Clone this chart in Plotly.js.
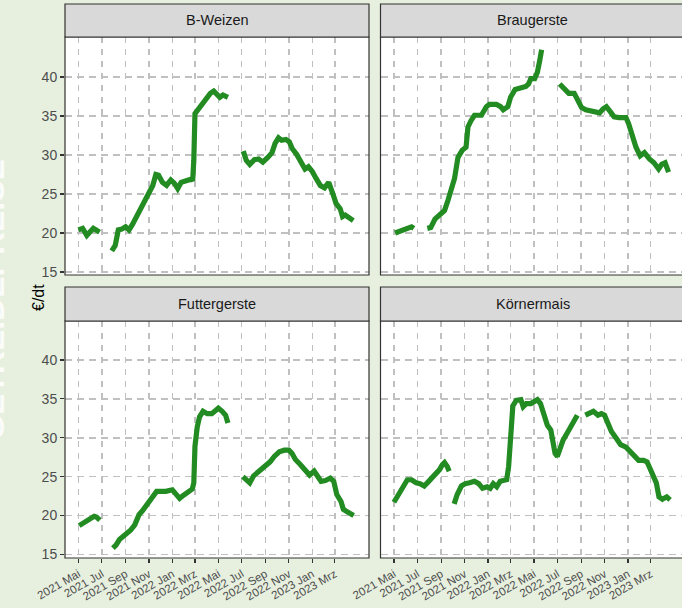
<!DOCTYPE html>
<html>
<head>
<meta charset="utf-8">
<script src="https://cdn.plot.ly/plotly-3.0.1.min.js"></script>
<style>html,body{margin:0;padding:0;background:#e7f0df;}#chart{width:682px;height:608px;}</style>
</head>
<body>
<div id="chart"></div>
<script>
// ---- Data ----
const panelTitles = ["B-Weizen", "Braugerste", "Futtergerste", "Körnermais"];
const tickDates = ["2021-05-01","2021-07-01","2021-09-01","2021-11-01","2022-01-01","2022-03-01","2022-05-01","2022-07-01","2022-09-01","2022-11-01","2023-01-01","2023-03-01"];
const tickLabels = ["2021 Mai","2021 Jul","2021 Sep","2021 Nov","2022 Jan","2022 Mrz","2022 Mai","2022 Jul","2022 Sep","2022 Nov","2023 Jan","2023 Mrz"];
const yTicks = [15, 20, 25, 30, 35, 40];

const weizenDates = ["2021-05-01","2021-05-12","2021-05-23","2021-06-01","2021-06-09","2021-06-16","2021-06-25","2021-07-10",
"2021-07-27","2021-08-05","2021-08-13","2021-08-22","2021-09-01","2021-09-10","2021-09-19","2021-09-29","2021-10-12","2021-10-24",
"2021-11-02","2021-11-11","2021-11-19","2021-11-26","2021-12-06","2021-12-17","2021-12-28","2022-01-06","2022-01-15","2022-01-24",
"2022-02-06","2022-02-19","2022-02-23","2022-02-26","2022-03-01","2022-03-04","2022-03-15","2022-03-28","2022-04-10","2022-04-19",
"2022-04-27","2022-05-05","2022-05-13","2022-05-19","2022-05-26","2022-06-15",
"2022-07-05","2022-07-13","2022-07-22","2022-08-03","2022-08-14","2022-08-25","2022-09-07","2022-09-18","2022-09-26","2022-10-05",
"2022-10-13","2022-10-24","2022-11-02","2022-11-10","2022-11-21","2022-11-29","2022-12-13","2022-12-22","2023-01-01","2023-01-11",
"2023-01-22","2023-02-02","2023-02-13","2023-02-24","2023-03-04","2023-03-15","2023-03-21","2023-03-28","2023-04-05","2023-04-18"];
const weizenVals = [20.4,20.6,19.7,20.3,20.6,20.4,20.1,null,
17.7,18.4,20.4,20.5,20.8,20.4,21.1,22.0,23.3,24.4,
25.4,26.1,27.5,27.4,26.5,26.1,26.8,26.4,25.7,26.5,
26.7,26.9,26.7,29.3,35.3,35.5,36.4,37.3,37.9,38.2,
37.9,37.4,37.7,37.6,37.4,null,
30.5,29.3,28.8,29.4,29.5,29.1,29.7,30.3,31.5,32.2,
31.9,32.0,31.7,30.8,30.1,29.3,28.2,28.5,27.9,27.0,
26.1,25.8,26.5,25.0,23.8,23.1,22.1,22.3,22.0,21.6];

const brauDates = ["2021-05-04","2021-05-21","2021-06-08","2021-06-16","2021-06-22","2021-07-10",
"2021-07-27","2021-08-05","2021-08-16","2021-08-29","2021-09-10","2021-09-19","2021-09-28","2021-10-06","2021-10-15","2021-10-26",
"2021-11-05","2021-11-10","2021-11-18","2021-11-27","2021-12-15","2021-12-28","2022-01-05","2022-01-23","2022-02-03","2022-02-10",
"2022-02-22","2022-03-01","2022-03-13","2022-03-28","2022-04-10","2022-04-17","2022-04-23","2022-05-03","2022-05-10","2022-05-16",
"2022-05-21","2022-06-15",
"2022-07-07","2022-07-18","2022-07-31","2022-08-14","2022-08-22","2022-09-02","2022-09-13","2022-09-28","2022-10-08","2022-10-19",
"2022-10-28","2022-11-06","2022-11-17","2022-11-26","2022-12-09","2022-12-27","2023-01-03","2023-01-14","2023-01-22","2023-02-02",
"2023-02-13","2023-02-26","2023-03-10","2023-03-22","2023-03-30","2023-04-08","2023-04-17"];
const brauVals = [20.0,20.3,20.6,20.8,20.6,null,
20.6,20.7,21.8,22.3,22.9,24.2,25.5,27.0,29.7,30.6,
31.0,33.6,34.4,35.1,35.1,36.2,36.5,36.5,36.2,35.8,
36.2,37.4,38.4,38.6,38.8,39.1,39.8,39.8,40.6,42.1,
43.5,null,
39.1,38.5,37.9,37.9,37.2,36.1,35.8,35.6,35.6,35.4,
35.9,36.2,35.5,34.9,34.8,34.8,34.0,32.3,31.0,29.9,
30.3,29.5,29.0,28.2,28.8,29.0,27.8];

const futterDates = ["2021-05-03","2021-05-14","2021-05-23","2021-06-02","2021-06-11","2021-06-17","2021-06-26","2021-07-12",
"2021-07-30","2021-08-07","2021-08-16","2021-08-26","2021-09-03","2021-09-14","2021-09-25","2021-10-06","2021-10-15","2021-10-24",
"2021-11-02","2021-11-12","2021-11-21","2021-12-02","2021-12-15","2022-01-01","2022-01-11","2022-01-20","2022-01-30","2022-02-11",
"2022-02-22","2022-02-26","2022-03-01","2022-03-07","2022-03-13","2022-03-22","2022-04-02","2022-04-14","2022-04-24","2022-05-01",
"2022-05-11","2022-05-20","2022-05-26","2022-06-15",
"2022-07-04","2022-07-13","2022-07-22","2022-08-01","2022-08-11","2022-08-20","2022-09-01","2022-09-13","2022-09-24","2022-10-07",
"2022-10-20","2022-11-01","2022-11-09","2022-11-18","2022-11-30","2022-12-14","2022-12-25","2023-01-06","2023-01-15","2023-01-24",
"2023-02-04","2023-02-17","2023-02-26","2023-03-06","2023-03-17","2023-03-23","2023-04-01","2023-04-10","2023-04-19"];
const futterVals = [18.7,19.0,19.2,19.5,19.9,19.8,19.4,null,
15.8,16.2,16.9,17.3,17.6,18.1,18.8,20.1,20.6,21.2,
22.0,22.6,23.1,23.1,23.1,23.3,22.6,22.2,22.6,23.1,
23.4,24.2,28.9,31.4,32.7,33.4,33.1,33.1,33.4,33.8,
33.4,32.9,31.9,null,
25.0,24.7,24.2,25.1,25.5,25.9,26.5,26.9,27.6,28.2,
28.4,28.4,28.0,27.2,26.6,25.7,25.2,25.7,25.0,24.4,
24.5,24.8,24.4,22.7,21.8,20.8,20.5,20.3,20.0];

const maisDates = ["2021-05-01","2021-05-12","2021-05-25","2021-06-05","2021-06-16","2021-06-28","2021-07-08","2021-07-19","2021-07-27",
"2021-08-08","2021-08-19","2021-08-28","2021-09-04","2021-09-10","2021-09-17","2021-09-22","2021-09-28",
"2021-10-05","2021-10-13","2021-10-24","2021-11-03","2021-11-14","2021-11-27","2021-12-08","2021-12-18","2021-12-30","2022-01-07",
"2022-01-15","2022-01-24","2022-02-02","2022-02-11","2022-02-19","2022-02-24","2022-03-01","2022-03-07","2022-03-16","2022-03-28",
"2022-04-03","2022-04-11","2022-04-23","2022-05-01","2022-05-10","2022-05-18","2022-05-27","2022-06-05","2022-06-14","2022-06-20",
"2022-06-25","2022-07-01","2022-07-07","2022-07-16","2022-07-29","2022-08-11","2022-08-22","2022-09-01",
"2022-09-12","2022-09-23","2022-10-03","2022-10-15","2022-10-24","2022-11-01","2022-11-10","2022-11-19","2022-12-02","2022-12-13",
"2022-12-27","2023-01-07","2023-01-17","2023-01-29","2023-02-11","2023-02-20","2023-02-27","2023-03-07","2023-03-16","2023-03-23",
"2023-04-01","2023-04-12","2023-04-21"];
const maisVals = [21.7,22.7,23.9,24.6,24.6,24.2,24.1,23.8,24.2,
24.8,25.4,25.9,26.5,26.8,26.3,25.7,null,
21.5,22.7,23.8,24.1,24.2,24.4,24.1,23.5,23.7,23.5,
24.1,23.7,24.4,24.5,24.6,26.3,31.0,34.1,34.8,34.9,
34.0,34.4,34.4,34.6,34.9,34.4,32.9,31.6,31.0,29.3,
28.0,27.6,28.4,29.7,30.8,31.9,32.9,null,
32.9,33.1,33.4,32.9,33.1,32.9,31.9,30.8,29.9,29.1,
28.8,28.2,27.6,27.1,27.1,26.9,26.1,25.2,24.2,22.4,
22.1,22.4,22.0];

// ---- Layout geometry ----
const W = 682, H = 608;
const colX = [[65/W, 369/W], [380.5/W, 1]];
const stripCenterX = [(65+369)/2/W, (380.5+685)/2/W];
const rowY = [[1-275/H, 1-37/H], [1-558/H, 1-321/H]];
const stripY = [[1-37/H, 1-4/H], [1-321/H, 1-287/H]];
const xRanges = [["2021-03-27","2023-05-29"], ["2021-03-27","2023-05-22"]];
const yRanges = [[14.62, 45.13], [14.53, 45.02]];

const series = [[weizenDates, weizenVals],[brauDates, brauVals],[futterDates, futterVals],[maisDates, maisVals]];
const green = "#228B22";
const FONT = "Liberation Sans, Arial, sans-serif";

const traces = [];
const layout = {
  width: W, height: H,
  margin: {l:0, r:0, t:0, b:0},
  paper_bgcolor: "#e7f0df",
  plot_bgcolor: "#ffffff",
  showlegend: false,
  font: {family: FONT},
  shapes: [], annotations: []
};

for (let i = 0; i < 4; i++) {
  const r = Math.floor(i/2), c = i % 2;
  const ax = i === 0 ? "" : String(i+1);
  traces.push({
    x: series[i][0], y: series[i][1],
    type: "scatter", mode: "lines",
    connectgaps: false,
    line: {color: green, width: 5.2},
    xaxis: "x"+ax, yaxis: "y"+ax,
    hoverinfo: "skip"
  });
  layout["xaxis"+ax] = {
    domain: colX[c], anchor: "y"+ax, type: "date",
    range: xRanges[c],
    tickmode: "array", tickvals: tickDates, ticktext: tickLabels,
    showticklabels: r === 1, ticks: r === 1 ? "outside" : "",
    ticklen: 4, tickwidth: 1.2, tickcolor: "#333333",
    tickangle: -30,
    tickfont: {size: 11.5, color: "#4d4d4d", family: FONT},
    showgrid: true, gridcolor: "#c0c0c0", gridwidth: 1.5, griddash: "6px,6px",
    zeroline: false, showline: false, fixedrange: true
  };
  layout["yaxis"+ax] = {
    domain: rowY[r], anchor: "x"+ax,
    range: yRanges[r],
    tickmode: "array", tickvals: yTicks,
    showticklabels: c === 0, ticks: c === 0 ? "outside" : "",
    ticklen: 4, tickwidth: 1.2, tickcolor: "#333333",
    tickfont: {size: 14, color: "#4d4d4d", family: FONT},
    showgrid: true, gridcolor: "#c0c0c0", gridwidth: 1.5, griddash: "7px,5px",
    zeroline: false, showline: false, fixedrange: true
  };
  const x0 = colX[c][0], x1 = c === 1 ? 1.02 : colX[c][1];
  // panel border
  layout.shapes.push({type:"rect", xref:"paper", yref:"paper", x0:x0, x1:x1, y0:rowY[r][0], y1:rowY[r][1],
    line:{color:"#333333", width:1.2}, fillcolor:"rgba(0,0,0,0)", layer:"above"});
  // strip
  layout.shapes.push({type:"rect", xref:"paper", yref:"paper", x0:x0, x1:x1, y0:stripY[r][0], y1:stripY[r][1],
    line:{color:"#333333", width:1.2}, fillcolor:"#d9d9d9", layer:"above"});
  layout.annotations.push({xref:"paper", yref:"paper", x: stripCenterX[c],
    y:(stripY[r][0]+stripY[r][1])/2, text: panelTitles[i], showarrow:false,
    font:{size:14.5, color:"#1a1a1a", family: FONT}, xanchor:"center", yanchor:"middle"});
}

// y axis title
layout.annotations.push({xref:"paper", yref:"paper", x:39/W, y:1-298/H, text:"€/dt", textangle:-90,
  showarrow:false, font:{size:16, color:"#000000", family: FONT}, xanchor:"center", yanchor:"middle"});
// faded watermark on the left edge (cut off by the page edge, as in the reference)
layout.annotations.push({xref:"paper", yref:"paper", x:-7/W, y:1-300/H, text:"<b>GETREIDEPREISE</b>", textangle:-90,
  showarrow:false, font:{size:32, color:"rgba(255,255,255,0.85)", family: FONT}, xanchor:"center", yanchor:"middle"});

Plotly.newPlot("chart", traces, layout, {displayModeBar:false, staticPlot:true});
</script>
</body>
</html>
